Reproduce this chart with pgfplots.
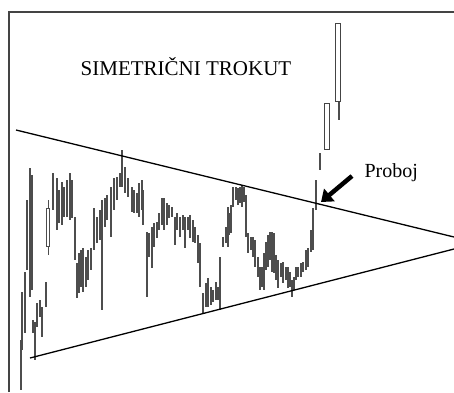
\documentclass[border=0pt]{standalone}
\usepackage{fontspec}
\setmainfont{Liberation Serif}
\usepackage{pgfplots}
\pgfplotsset{compat=1.18}
\usepackage{pgfplotstable}
\usetikzlibrary{arrows.meta}

\definecolor{barcol}{HTML}{4D4D4D}
\definecolor{framecol}{HTML}{444444}

% price bars: x, top (high), bottom (low) -- picture rows, y grows downward
\pgfplotstableread{
x hi lo
21 347 388
22 292 350
25 272 333
27 200 270
30 168 297
32 175 290
33 320 333
35 322 360
37 303 327
40 300 317
42 307 337
46 282 307
53 173 210
57 178 230
59 190 223
62 182 225
64 187 217
67 180 217
70 173 220
72 180 218
75 217 260
77 263 298
79 253 293
81 250 287
83 248 292
86 257 287
88 250 280
91 248 270
94 208 250
97 217 243
100 210 240
102 200 250
105 198 227
107 195 220
111 187 237
114 178 210
117 177 200
120 173 187
122 165 187
125 167 193
128 178 197
132 187 212
134 190 213
137 193 213
139 183 217
142 180 210
143 190 225
147 232 262
149 233 257
152 227 268
154 223 247
157 222 238
159 213 230
162 198 225
164 198 230
167 203 225
169 205 218
172 207 217
175 217 245
177 213 230
180 217 237
183 215 230
185 217 248
188 217 230
190 215 238
193 220 242
195 227 243
198 235 263
200 243 287
203 293 313
206 283 307
208 278 307
211 287 305
213 290 302
216 282 300
218 287 300
220 257 280
223 237 247
226 227 243
228 207 247
229 213 235
231 205 233
233 187 207
236 187 200
238 188 205
240 187 203
242 185 207
244 187 202
246 195 237
248 233 253
251 237 250
253 237 257
255 240 267
258 257 277
260 267 290
262 267 287
264 253 290
266 242 270
268 235 267
270 232 260
272 232 272
274 233 273
276 255 280
278 260 288
281 263 277
283 262 283
286 267 280
288 267 288
290 272 287
292 283 295
294 277 290
296 267 280
298 267 277
301 263 277
303 262 272
306 250 270
308 248 267
311 230 252
313 208 250
316 180 210
320 153 170
}\bars

% long thin wicks
\pgfplotstableread{
x hi lo
21 340 390
102 240 310
122 150 170
147 250 297
220 270 310
292 280 297
339 100 120
}\wicks

% hollow candles
\pgfplotstableread{
x hi lo
48 208 247
}\hollowA
\pgfplotstableread{
x hi lo
327 103 150
338 23 102
}\hollowB

\begin{document}
\begin{tikzpicture}
\begin{axis}[
  width=454pt, height=392pt, scale only axis,
  xmin=0, xmax=454, ymin=0, ymax=392,
  y dir=reverse,
  hide axis,
]
% keep the whole canvas in the bounding box
\addplot[draw=none, forget plot] coordinates {(0,0) (454,392)};

% frame
\addplot[framecol, line width=2pt] coordinates {(9,392) (9,12) (454,12)};

% bars
\addplot[draw=none, mark=none, error bars/.cd, y dir=plus, y explicit, error mark=none,
  error bar style={draw=barcol, line width=1.3pt}]
  table[x=x, y=hi, y error expr=\thisrow{lo}-\thisrow{hi}] {\wicks};
\addplot[draw=none, mark=none, error bars/.cd, y dir=plus, y explicit, error mark=none,
  error bar style={draw=barcol, line width=2.7pt}]
  table[x=x, y=hi, y error expr=\thisrow{lo}-\thisrow{hi}] {\bars};

% hollow candle early
\addplot[draw=none, mark=none, error bars/.cd, y dir=plus, y explicit, error mark=none,
  error bar style={draw=barcol, line width=1pt}]
  coordinates {(48,200) +- (0,55)};
\addplot[draw=none, mark=none, error bars/.cd, y dir=plus, y explicit, error mark=none,
  error bar style={draw=barcol, line width=4.5pt}]
  table[x=x, y=hi, y error expr=\thisrow{lo}-\thisrow{hi}] {\hollowA};
\addplot[draw=none, mark=none, error bars/.cd, y dir=plus, y explicit, error mark=none,
  error bar style={draw=white, line width=2.3pt}]
  table[x=x, y expr=\thisrow{hi}+1.2, y error expr=\thisrow{lo}-\thisrow{hi}-2.4] {\hollowA};

% hollow breakout candles
\addplot[draw=none, mark=none, error bars/.cd, y dir=plus, y explicit, error mark=none,
  error bar style={draw=framecol, line width=6pt}]
  table[x=x, y=hi, y error expr=\thisrow{lo}-\thisrow{hi}] {\hollowB};
\addplot[draw=none, mark=none, error bars/.cd, y dir=plus, y explicit, error mark=none,
  error bar style={draw=white, line width=3.6pt}]
  table[x=x, y expr=\thisrow{hi}+1.2, y error expr=\thisrow{lo}-\thisrow{hi}-2.4] {\hollowB};

% trend lines
\addplot[black, line width=1.3pt] coordinates {(16,130) (454,237)};
\addplot[black, line width=1.3pt] coordinates {(30,358) (454,249)};

% labels
\node[font=\fontsize{21}{24}\selectfont, text=black] at (axis cs:186,67) {SIMETRIČNI TROKUT};
\node[font=\fontsize{20}{24}\selectfont, text=black, anchor=base west] at (axis cs:361,177) {Proboj};
\draw[black, line width=4.5pt, -{Triangle[length=11pt, width=16pt]}]
  (axis cs:352,176) -- (axis cs:321,202);
\end{axis}
\end{tikzpicture}
\end{document}
